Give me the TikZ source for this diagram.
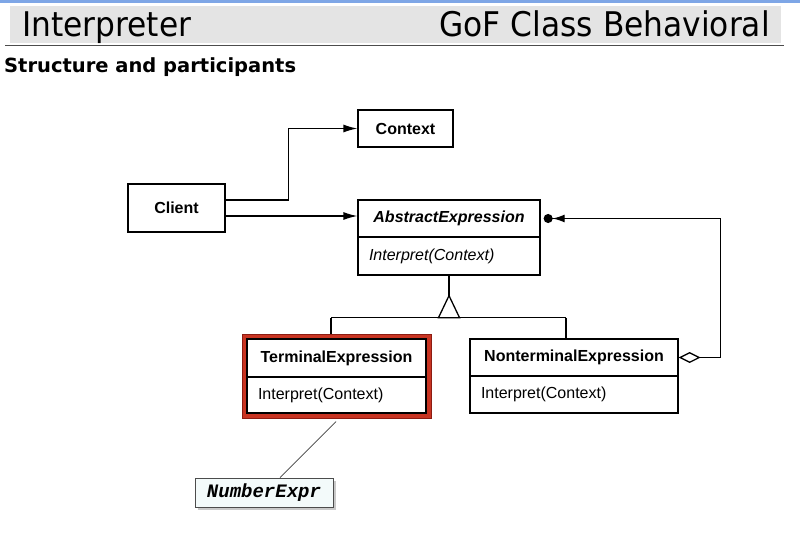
\documentclass[tikz,border=0pt]{standalone}
\usepackage{fontspec}
\setmainfont{Liberation Sans}
\newfontfamily\hdrfont[FakeStretch=0.92]{DejaVu Sans}
\newfontfamily\subfont{DejaVu Sans}
\newfontfamily\notefont{Liberation Mono}
\usetikzlibrary{arrows.meta,calc,shadows}
\definecolor{hdrgray}{RGB}{228,228,228}
\definecolor{topblue}{RGB}{126,166,230}
\definecolor{framered}{RGB}{200,52,34}
\definecolor{framedark}{RGB}{140,28,18}
\definecolor{notefill}{RGB}{243,250,250}
\tikzset{
  umlbox/.style={draw, fill=white, line width=1.3pt, inner ysep=0pt, font=\fontsize{16}{18}\selectfont},
  headc/.style={umlbox, align=center, inner xsep=0pt},
  methl/.style={umlbox, align=left, inner xsep=11pt},
  conn/.style={line width=1.3pt},
  arr/.style={conn, -{Latex[length=14pt,width=8pt]}},
  agg/.style={conn, {Diamond[open,length=22pt,width=11pt,line width=1.3pt]}-{Latex[length=12pt,width=8pt] Circle[length=9pt,sep=3pt]}},
}
\begin{document}
\begin{tikzpicture}[x=1pt,y=-1pt]
\useasboundingbox (0,0) rectangle (800,551);
\fill[white] (0,0) rectangle (800,551);
% header
\fill[topblue] (0,0) rectangle (800,3);
\fill[hdrgray] (10,6) rectangle (781,43);
\draw[line width=1pt, black!70] (5,46) -- (784,46);
\node[anchor=base west, inner sep=0pt, font=\hdrfont\fontsize{34}{36}\selectfont] (title) at (22,37) {Interpreter};
\node[anchor=base east, inner sep=0pt, font=\hdrfont\fontsize{34}{36}\selectfont] (cat) at (770,37) {GoF Class Behavioral};
\node[anchor=base west, inner sep=0pt, font=\subfont\bfseries\fontsize{19.5}{22}\selectfont] (sub) at (4,72) {Structure and participants};
% boxes
\node[headc, text width=95pt, minimum height=37pt] (ctx) at (405.5,128.5) {\bfseries Context};
\node[headc, text width=97pt, minimum height=48pt] (cl) at (176.5,208) {\bfseries Client};
\node[headc, text width=182pt, minimum height=37pt] (ae) at (449,218.5) {\bfseries\itshape AbstractExpression};
\node[methl, text width=160pt, minimum height=38pt] (aem) at (449,256) {\itshape Interpret(Context)};
% terminal with red frame
\node[fill=framered, draw=framedark, line width=1pt, minimum width=189pt, minimum height=84pt, inner sep=0pt] (tef) at (336.5,376) {};
\node[headc, text width=179pt, minimum height=38pt] (te) at (336.5,358) {\bfseries TerminalExpression};
\node[methl, text width=157pt, minimum height=36pt] (tem) at (336.5,395) {Interpret(Context)};
% nonterminal
\node[headc, text width=208pt, minimum height=37pt] (nt) at (574,357.5) {\bfseries NonterminalExpression};
\node[methl, text width=186pt, minimum height=37pt] (ntm) at (574,394.5) {Interpret(Context)};
% note
\node[draw=black!70, fill=notefill, line width=0.6pt, minimum width=138pt, minimum height=29pt, inner sep=0pt,
      drop shadow={shadow xshift=2.5pt, shadow yshift=-2.5pt, fill=black!35, opacity=0.6},
      font=\notefont\bfseries\itshape\fontsize{19}{20}\selectfont] (note) at (264,492.5) {NumberExpr};
% connectors
\draw[arr] ($(cl.east)+(0,-8)$) -- ++(63,0) |- (ctx.west);
\draw[arr] ($(cl.east)+(0,8)$) coordinate (c2) -- (c2 -| ae.west);
\draw[agg] (nt.east) -- ++(42,0) |- (ae.east);
% generalization
\coordinate (apex) at ($(aem.south)+(0,20)$);
\coordinate (bar) at ($(apex)+(0,22)$);
\coordinate (bl) at ($(bar)+(-118,0)$);
\coordinate (br) at ($(bar)+(117,0)$);
\draw[conn] (aem.south) -- (apex);
\draw[conn] (bl) -- (br);
\draw[conn, fill=white, line join=miter] (apex) -- ($(bar)+(-10.5,0)$) -- ($(bar)+(10.5,0)$) -- cycle;
\draw[conn] (bl) -- (bl |- tef.north);
\draw[conn] (br) -- (br |- nt.north);
% note link
\coordinate (nl) at ($(tef.south)+(-0.5,3)$);
\draw[line width=0.7pt, black!75] (nl) -- ($(note.north)+(16,0)$);
\end{tikzpicture}
\end{document}
